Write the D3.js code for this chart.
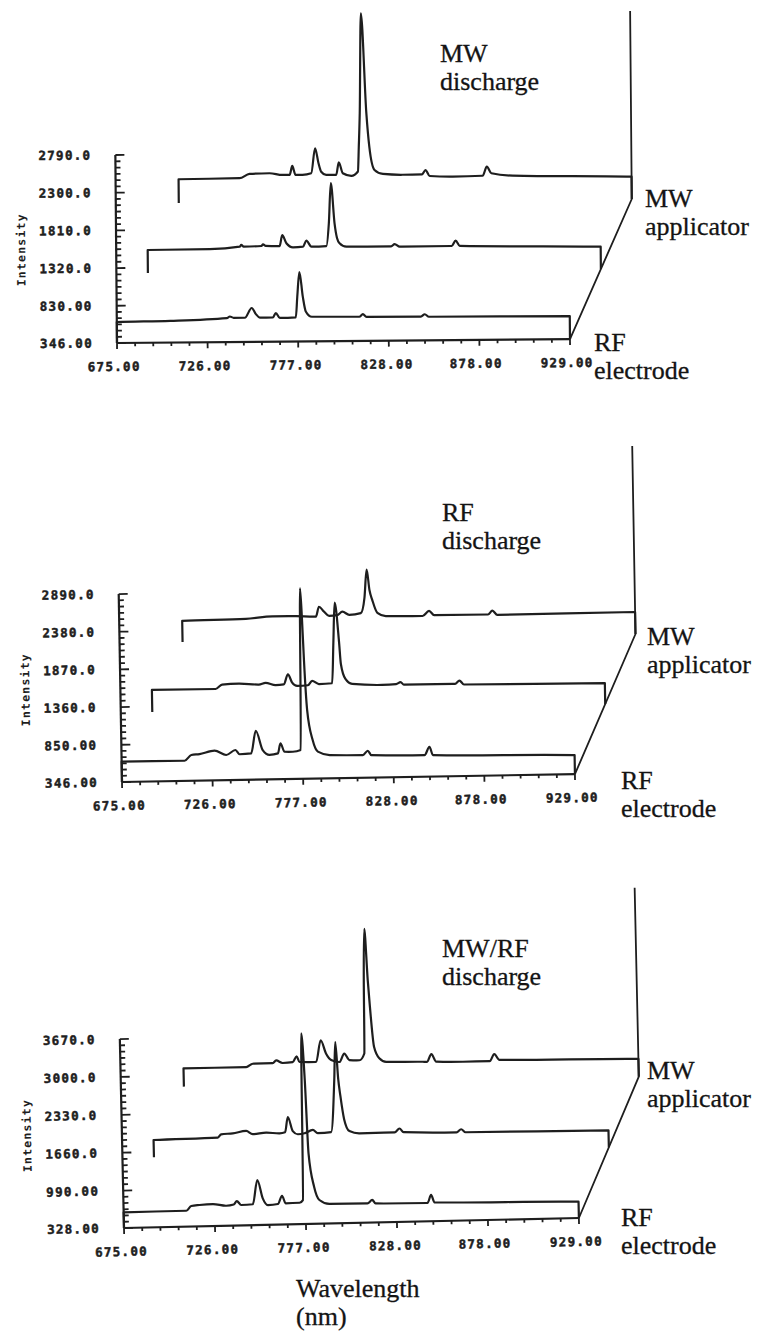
<!DOCTYPE html>
<html>
<head>
<meta charset="utf-8">
<script src="https://cdn.jsdelivr.net/npm/d3@7"></script>
<style>
  body { margin: 0; background: #fff; }
  svg { display: block; }
</style>
</head>
<body>
<script>
// wavelength axis (nm), shared by the three panels
const wavelengthTicks = [675, 726, 777, 828, 878, 929];
const wavelengthLabels = ["675.00", "726.00", "777.00", "828.00", "878.00", "929.00"];

// panel 1 : MW discharge
const p1IntensityTicks = [346, 830, 1320, 1810, 2300, 2790];
const p1TickLabels = ["346.00", "830.00", "1320.0", "1810.0", "2300.0", "2790.0"];
const p1RfElectrode = [[675,619],[705,628],[736.7,658],[738.4,678],[740.5,660],[746.8,660],[750.7,786],[753,706],[755.2,660],[762.5,660],[764.2,718],[766.4,653],[775.4,660],[776.3,927],[777.6,1248],[779.4,927],[781,735],[784.4,665],[811,660],[813,694],[815,658],[845.5,655],[847.7,685],[850,652],[929,645]];
const p1MwApplicator = [[675,645],[709.8,648],[726.6,678],[727.5,700],[728.8,678],[738.8,684],[739.7,706],[741.2,685],[749,681],[750.5,824],[752.8,717],[756.5,663],[762.1,670],[764,748],[766.8,670],[775.2,676],[776.7,971],[778,1492],[779.9,971],[781.2,780],[782.6,712],[786.4,666],[797.7,663],[811.5,665],[813.5,694],[816.3,659],[845.5,662],[847.7,731],[850,662],[929,636]];
const p1MwDischarge = [[675,654],[709.2,661],[714.8,715],[726,722],[733.3,698],[737.3,698],[738.8,814],[740.6,698],[744.5,698],[749.4,717],[751.7,1042],[753.5,850],[755,736],[757.8,694],[763.4,694],[764.9,857],[767.1,714],[771.9,679],[775.6,735],[776.2,1052],[776.9,1492],[778,2791],[780.6,1492],[782.1,1057],[784.9,753],[789.6,700],[800.6,687],[811.5,690],[813.5,746],[815.8,668],[828.7,658],[845.5,665],[847.9,783],[850.4,697],[862.3,663],[929,636]];

// panel 2 : RF discharge
const p2IntensityTicks = [346, 850, 1360, 1870, 2380, 2890];
const p2TickLabels = ["346.00", "850.00", "1360.0", "1870.0", "2380.0", "2890.0"];
const p2RfElectrode = [[675,621],[710.3,619],[714.1,695],[718.7,706],[727.2,748],[733.7,687],[738.9,752],[741.2,694],[747.7,703],[750.5,1008],[754.2,745],[758,678],[762.7,696],[764.2,832],[766.4,717],[771.1,715],[775.5,737],[776.7,2924],[777.5,2500],[778.2,1952],[779.5,1276],[782.3,868],[785.1,710],[791.7,661],[810.3,653],[813.1,711],[815,652],[844.9,638],[847.7,749],[849.6,637],[929,603]];
const p2MwApplicator = [[675,644],[710.7,642],[714.4,699],[723.8,709],[735,692],[738.8,714],[744.4,680],[749,688],[751.4,822],[753.7,710],[756.5,664],[762.5,671],[764.9,729],[768.7,684],[776.1,692],[777.2,1243],[778.3,1784],[780.4,1243],[781.2,950],[783.6,747],[787.3,678],[804.2,657],[812,665],[814.5,691],[816.3,657],[845,655],[847.5,698],[850,644],[929,630]];
const p2RfDischarge = [[675,630],[710.7,644],[725.6,671],[738.8,667],[750,657],[751.8,790],[754.6,722],[757.4,664],[761.9,671],[764.9,718],[768.7,673],[775.2,694],[777.4,900],[778.9,1280],[780.3,1000],[781.7,874],[784.5,694],[789.2,648],[809.8,640],[813.5,707],[816.3,649],[846.5,645],[849,696],[851.7,638],[929,644]];

// panel 3 : MW/RF discharge
const p3IntensityTicks = [328, 990, 1660, 2330, 3000, 3670];
const p3TickLabels = ["328.00", "990.00", "1660.0", "2330.0", "3000.0", "3670.0"];
const p3RfElectrode = [[675,606],[710,609],[712.8,690],[717.4,705],[724.9,717],[732.3,682],[736.5,700],[738.3,761],[740.7,689],[747.2,698],[750,1125],[752.8,798],[755.6,678],[761.2,692],[763.6,837],[765.5,701],[773.3,706],[775.2,752],[776.3,3700],[777.7,2873],[778.9,1576],[781.6,984],[784.4,747],[790,673],[811.2,669],[813.9,728],[815.7,664],[844.7,652],[846.8,793],[848.6,660],[929,616]];
const p3MwApplicator = [[675,634],[710.9,652],[712.8,708],[719.3,722],[726.8,758],[730.4,699],[737.9,721],[745.4,703],[748.5,720],[750.2,988],[752.8,738],[755.6,680],[759.3,694],[764,752],[766.7,692],[774.2,706],[776.6,1637],[777.6,2296],[778.8,1637],[779.8,1341],[781.6,929],[784.4,717],[790,673],[809.6,676],[812.4,742],[814.6,675],[844.2,652],[846.8,705],[849.2,650],[929,629]];
const p3MwRfDischarge = [[675,652],[710,648],[713.7,706],[724.9,708],[726.8,756],[730.4,708],[736,719],[738.3,820],[739.8,719],[749.1,712],[751.9,1095],[754.7,860],[757.5,742],[762.1,703],[764.9,851],[767.7,733],[773.3,726],[776.1,844],[776.7,2139],[777.6,3049],[778.9,2139],[779.8,1667],[781.6,959],[784.4,754],[788.2,687],[808.6,675],[811,672],[813.5,807],[816.1,671],[831,660],[846,660],[848.6,784],[851.4,678],[929,641]];

const ink = "#1e1e1e";
const tickFont = "'DejaVu Sans Mono', monospace";
const serif = "'Liberation Serif', serif";

const panels = [
  { origin: [117, 343], tilt: -0.5, width: 453, height: 188, depth: [63, -139.5],
    ticks: p1IntensityTicks, tickLabels: p1TickLabels,
    traces: [p1RfElectrode, p1MwApplicator, p1MwDischarge],
    title: ["MW", "discharge"], titleAt: [440, 62],
    mid: [645, 207], front: [594, 351] },
  { origin: [122, 782], tilt: -1.0, width: 453, height: 188, depth: [63, -139],
    ticks: p2IntensityTicks, tickLabels: p2TickLabels,
    traces: [p2RfElectrode, p2MwApplicator, p2RfDischarge],
    title: ["RF", "discharge"], titleAt: [442, 521],
    mid: [647, 645], front: [621, 789] },
  { origin: [124, 1228], tilt: -1.26, width: 455, height: 189, depth: [63, -140],
    ticks: p3IntensityTicks, tickLabels: p3TickLabels,
    traces: [p3RfElectrode, p3MwApplicator, p3MwRfDischarge],
    title: ["MW/RF", "discharge"], titleAt: [442, 957],
    mid: [647, 1079], front: [621, 1226] }
];

const svg = d3.select("body").append("svg")
  .attr("width", 760)
  .attr("height", 1338);

function twoLines(x, y, lines) {
  const t = svg.append("text")
    .attr("x", x).attr("y", y)
    .attr("font-family", serif)
    .attr("font-size", 26)
    .attr("fill", "#141414")
    .attr("stroke", "#141414")
    .attr("stroke-width", 0.3);
  lines.forEach((s, i) => {
    t.append("tspan").attr("x", x).attr("dy", i ? 28 : 0).text(s);
  });
}

function drawPanel(p) {
  const x = d3.scaleLinear().domain([675, 929]).range([0, p.width]);
  const y = d3.scaleLinear()
    .domain([p.ticks[0], p.ticks[p.ticks.length - 1]])
    .range([0, -p.height]);
  const g = svg.append("g")
    .attr("transform", `translate(${p.origin[0]},${p.origin[1]}) rotate(${p.tilt})`)
    .attr("fill", "none")
    .attr("stroke", ink)
    .attr("stroke-linejoin", "round");

  // x axis and its ticks
  g.append("line").attr("x1", 0).attr("x2", p.width).attr("stroke-width", 2.2);
  const minorX = d3.range(0, 26).map(i => 675 + i * (929 - 675) / 25);
  g.selectAll("line.xt").data(minorX).join("line")
    .attr("x1", d => x(d)).attr("x2", d => x(d))
    .attr("y1", 0).attr("y2", (d, i) => i % 5 === 0 ? 6 : 3.5)
    .attr("stroke-width", 1.8);

  // intensity axis and its ticks
  g.append("line").attr("y1", 0).attr("y2", y.range()[1]).attr("stroke-width", 2.2);
  const minorY = [];
  for (let i = 0; i < p.ticks.length - 1; i++) {
    for (let k = 0; k < 6; k++) minorY.push({ v: p.ticks[i] + k * (p.ticks[i + 1] - p.ticks[i]) / 6, major: k === 0 });
  }
  minorY.push({ v: p.ticks[p.ticks.length - 1], major: true });
  g.selectAll("line.yt").data(minorY).join("line")
    .attr("y1", d => y(d.v)).attr("y2", d => y(d.v))
    .attr("x1", 0).attr("x2", d => d.major ? 9 : 5)
    .attr("stroke-width", 1.8);

  // tick labels
  const label = sel => sel
    .attr("stroke", ink).attr("stroke-width", 0.5).attr("fill", ink)
    .attr("font-family", tickFont).attr("font-weight", "bold")
    .attr("font-size", 12.5).attr("letter-spacing", 1.3);
  g.selectAll("text.xl").data(wavelengthTicks).join("text")
    .attr("x", d => x(d) - 3).attr("y", 28)
    .attr("text-anchor", "middle")
    .call(label)
    .text((d, i) => wavelengthLabels[i]);
  g.selectAll("text.yl").data(p.ticks).join("text")
    .attr("x", -24).attr("y", d => y(d)).attr("dy", "0.35em")
    .attr("text-anchor", "end")
    .call(label)
    .text((d, i) => p.tickLabels[i]);
  g.append("text")
    .attr("transform", `translate(${-95},${-p.height / 2}) rotate(-90)`)
    .attr("text-anchor", "middle").attr("dy", "0.35em")
    .attr("stroke", "none").attr("fill", ink)
    .attr("font-family", tickFont).attr("font-weight", "bold")
    .attr("font-size", 11.5).attr("letter-spacing", 1.2)
    .text("Intensity");

  // depth edge and back vertical edge
  const [dx, dy] = p.depth;
  g.append("path")
    .attr("d", `M${p.width},0L${p.width + dx},${dy}L${p.width + dx},${dy - p.height}`)
    .attr("stroke-width", 1.8);

  // the spectra, back to front, each dropped to its own floor at both ends
  const line = d3.line().x(d => x(d[0])).y(d => y(d[1])).curve(d3.curveMonotoneX);
  const floor = p.ticks[0];
  p.traces.forEach((data, k) => {
    const ox = dx * k / 2, oy = dy * k / 2;
    g.append("path")
      .attr("transform", `translate(${ox},${oy})`)
      .attr("d", line([[675, floor], ...data, [929, floor]]))
      .attr("stroke-width", 2.2);
  });
}

panels.forEach(p => {
  drawPanel(p);
  twoLines(p.titleAt[0], p.titleAt[1], p.title);
  twoLines(p.mid[0], p.mid[1], ["MW", "applicator"]);
  twoLines(p.front[0], p.front[1], ["RF", "electrode"]);
});

twoLines(296, 1297, ["Wavelength", "(nm)"]);
</script>
</body>
</html>
